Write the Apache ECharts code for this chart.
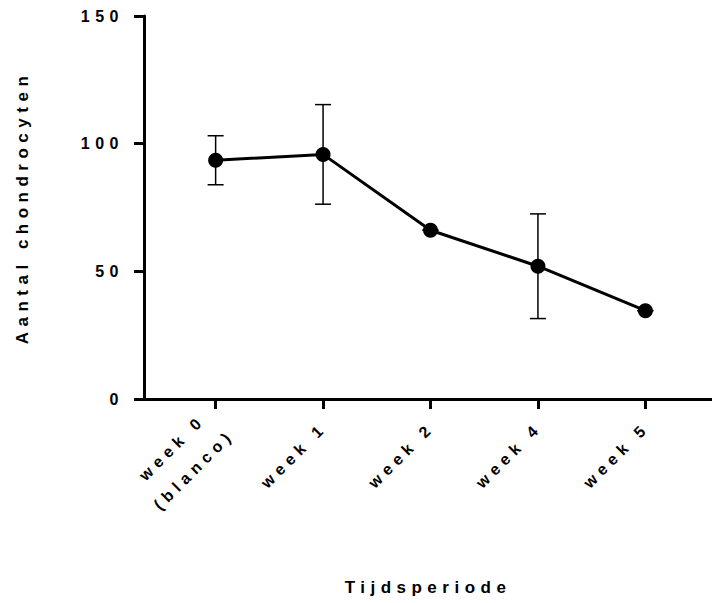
<!DOCTYPE html>
<html>
<head>
<meta charset="utf-8">
<script src="https://cdn.jsdelivr.net/npm/echarts@6/dist/echarts.min.js"></script>
<style>
html,body{margin:0;padding:0;background:#fff;}
#chart{width:712px;height:603px;}
#chart text{letter-spacing:5.5px;}
</style>
</head>
<body>
<div id="chart"></div>
<script>
var categories = ['week 0\n(blanco)', 'week 1', 'week 2', 'week 4', 'week 5'];
var meanValues = [93.5, 95.8, 66.1, 52.0, 34.6];
var errValues = [9.6, 19.5, 0, 20.5, 0];
var yTicks = [0, 50, 100, 150];

var chart = echarts.init(document.getElementById('chart'), null, {renderer: 'svg'});
var idx = categories.map(function (c, i) { return i; });
var lineData = meanValues.map(function (v, i) { return [i, v]; });
var errData = meanValues.map(function (v, i) { return [i, v - errValues[i], v + errValues[i]]; });
var fontFamily = '"Liberation Sans", Arial, sans-serif';

chart.setOption({
  animation: false,
  grid: {left: 144, right: 0, top: 16, bottom: 204, containLabel: false},
  xAxis: {
    type: 'value',
    min: -2 / 3,
    max: 4.62,
    splitLine: {show: false},
    axisLine: {show: true, onZero: false, lineStyle: {color: '#000', width: 3}},
    axisTick: {show: true, customValues: idx, length: 10, lineStyle: {color: '#000', width: 3}},
    axisLabel: {
      show: true, customValues: idx, rotate: 45, margin: 27,
      padding: [0, 15, 0, 0],
      formatter: function (v) {
        return categories[Math.round(v)].split('\n').map(function (s) { return '{c|' + s + '}'; }).join('\n');
      },
      rich: {c: {align: 'center', color: '#000', fontSize: 16, fontWeight: 'bold', fontFamily: fontFamily, lineHeight: 31}},
      color: '#000', fontSize: 16, fontWeight: 'bold', fontFamily: fontFamily, lineHeight: 31
    },
    name: 'Tijdsperiode',
    nameLocation: 'middle',
    nameGap: 180,
    nameTextStyle: {color: '#000', fontSize: 17, fontWeight: 'bold', fontFamily: fontFamily}
  },
  yAxis: {
    type: 'value',
    min: 0, max: 150, interval: 50,
    splitLine: {show: false},
    axisLine: {show: true, onZero: false, lineStyle: {color: '#000', width: 3}},
    axisTick: {show: true, length: 10, lineStyle: {color: '#000', width: 3}},
    axisLabel: {
      color: '#000', fontSize: 16, fontWeight: 'bold', fontFamily: fontFamily, margin: 20,
      formatter: function (v) { return yTicks.indexOf(v) >= 0 ? String(v) : ''; }
    },
    name: 'Aantal chondrocyten',
    nameLocation: 'middle',
    nameRotate: 90,
    nameGap: 113,
    nameTextStyle: {color: '#000', fontSize: 17, fontWeight: 'bold', fontFamily: fontFamily}
  },
  series: [
    {
      type: 'custom',
      data: errData,
      z: 1,
      renderItem: function (params, api) {
        var x = api.value(0);
        var lo = api.coord([x, api.value(1)]);
        var hi = api.coord([x, api.value(2)]);
        var hw = 8;
        var style = {stroke: '#000', lineWidth: 1.5};
        return {
          type: 'group',
          children: [
            {type: 'line', shape: {x1: lo[0], y1: lo[1], x2: hi[0], y2: hi[1]}, style: style},
            {type: 'line', shape: {x1: lo[0] - hw, y1: lo[1], x2: lo[0] + hw, y2: lo[1]}, style: style},
            {type: 'line', shape: {x1: hi[0] - hw, y1: hi[1], x2: hi[0] + hw, y2: hi[1]}, style: style}
          ]
        };
      }
    },
    {
      type: 'line',
      data: lineData,
      z: 3,
      symbol: 'circle',
      symbolSize: 15,
      itemStyle: {color: '#000'},
      lineStyle: {color: '#000', width: 3}
    }
  ]
});
</script>
</body>
</html>
